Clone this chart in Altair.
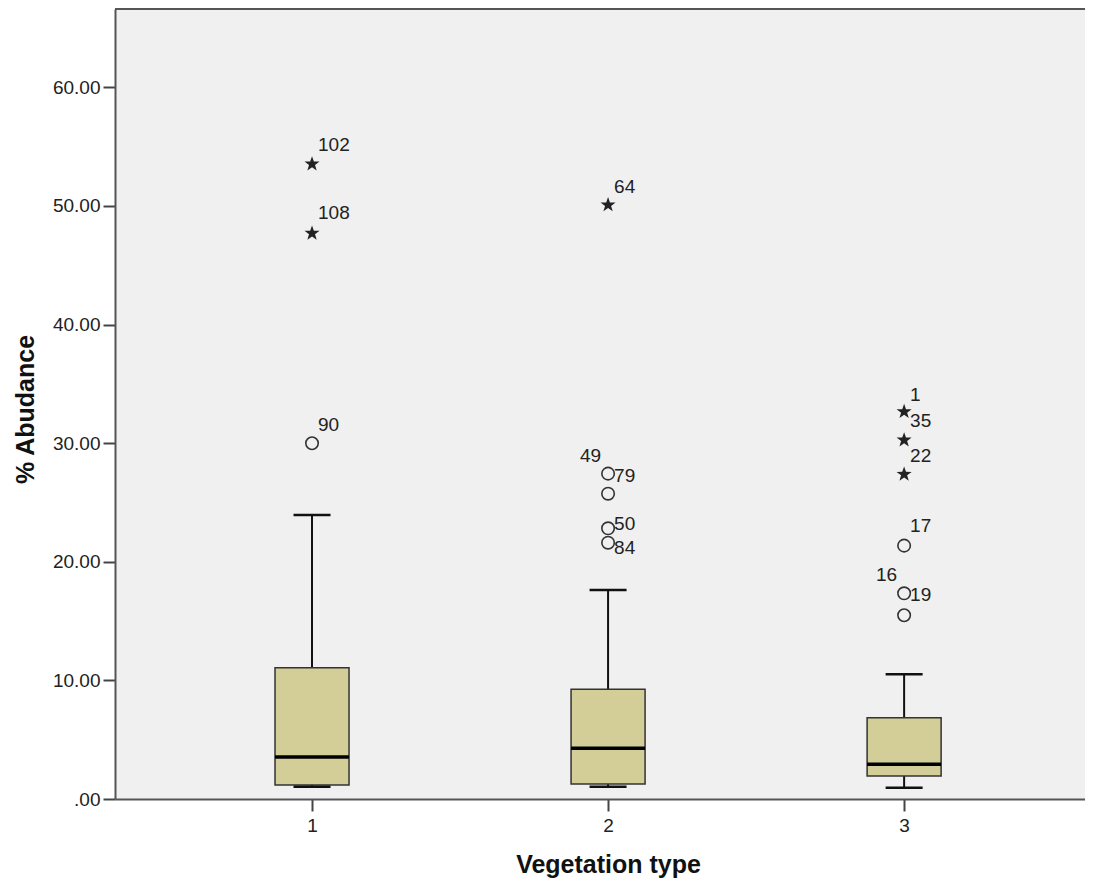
import altair as alt
import pandas as pd

# ---------------- data ----------------
groups = [1, 2, 3]
q1 = [1.18, 1.26, 1.94]
median = [3.54, 4.27, 2.92]
q3 = [11.07, 9.25, 6.86]
whisker_low = [1.04, 1.04, 0.95]
whisker_high = [23.94, 17.62, 10.51]

out_group = [1, 1, 1, 2, 2, 2, 2, 2, 3, 3, 3, 3, 3, 3]
out_value = [53.53, 47.69, 29.99, 50.08, 27.43, 25.74, 22.82, 21.61,
             32.65, 30.26, 27.37, 21.36, 17.34, 15.49]
out_kind = ["extreme", "extreme", "outlier", "extreme", "outlier", "outlier", "outlier", "outlier",
            "extreme", "extreme", "extreme", "outlier", "outlier", "outlier"]

label_group = [1, 1, 1, 2, 2, 2, 2, 2, 3, 3, 3, 3, 3, 3]
label_text = ["102", "108", "90", "64", "49", "79", "50", "84", "1", "35", "22", "17", "16", "19"]
label_value = [55.13, 49.40, 31.53, 51.59, 28.94, 27.26, 23.16, 21.13,
               34.06, 31.89, 28.92, 23.04, 18.88, 17.20]
label_side = ["right", "right", "right", "right", "left", "right", "right", "right",
              "right", "right", "right", "right", "left", "right"]

y_ticks = [0, 10, 20, 30, 40, 50, 60]
x_ticks = [1, 2, 3]

box_df = pd.DataFrame({"group": groups, "q1": q1, "median": median, "q3": q3,
                       "wlo": whisker_low, "whi": whisker_high})
out_df = pd.DataFrame({"group": out_group, "value": out_value, "kind": out_kind})
lab_df = pd.DataFrame({"group": label_group, "text": label_text,
                       "value": label_value, "side": label_side})

# ---------------- styling ----------------
W, H = 970, 790
FONT = "Liberation Sans"
BOX_FILL = "#d3ce97"
STAR = ("M0,-1L0.235,-0.324L0.951,-0.309L0.38,0.124L0.588,0.809L0,0.4"
        "L-0.588,0.809L-0.38,0.124L-0.951,-0.309L-0.235,-0.324Z")

xscale = alt.Scale(domain=[0.3345, 3.611], nice=False, zero=False)
yscale = alt.Scale(domain=[0, 66.6], nice=False, zero=False)

x_axis = alt.Axis(values=x_ticks, format="d", title="Vegetation type", grid=False,
                  tickSize=12, tickWidth=2, tickColor="#444", domainColor="#555",
                  domainWidth=2, labelPadding=5, labelFont=FONT, labelFontSize=19,
                  labelColor="#222", labelAngle=0, titleFont=FONT, titleFontSize=25,
                  titleFontWeight="bold", titleColor="#111", titleX=493, titleY=73,
                  titleAlign="center", titleBaseline="alphabetic")
y_axis = alt.Axis(values=y_ticks, title="% Abudance", grid=False,
                  labelExpr="datum.value == 0 ? '.00' : format(datum.value, '.2f')",
                  tickSize=12, tickWidth=2, tickColor="#444", domainColor="#555",
                  domainWidth=2, labelPadding=3, labelFont=FONT, labelFontSize=19,
                  labelColor="#222", titleFont=FONT, titleFontSize=25,
                  titleFontWeight="bold", titleColor="#111", titleAngle=270,
                  titleX=-82, titleY=400, titleAlign="center", titleBaseline="alphabetic")


def X(field):
    return alt.X(field, type="quantitative", scale=xscale, axis=x_axis)


def Y(field):
    return alt.Y(field, type="quantitative", scale=yscale, axis=y_axis)


base = alt.Chart(box_df).transform_calculate(
    xl="datum.group - 0.125", xr="datum.group + 0.125",
    cl="datum.group - 0.0625", cr="datum.group + 0.0625")

whisk_hi = base.mark_rule(color="#111", strokeWidth=2).encode(
    x=X("group"), y=Y("q3"), y2="whi:Q")
whisk_lo = base.mark_rule(color="#111", strokeWidth=2).encode(
    x=X("group"), y=Y("wlo"), y2="q1:Q")
boxes = base.mark_rect(fill=BOX_FILL, stroke="#333", strokeWidth=1.5).encode(
    x=X("xl"), x2="xr:Q", y=Y("q1"), y2="q3:Q")
med = base.mark_rule(color="#000", strokeWidth=3.5).encode(
    x=X("xl"), x2="xr:Q", y=Y("median"))
cap_hi = base.mark_rule(color="#111", strokeWidth=2.5).encode(
    x=X("cl"), x2="cr:Q", y=Y("whi"))
cap_lo = base.mark_rule(color="#111", strokeWidth=2.5).encode(
    x=X("cl"), x2="cr:Q", y=Y("wlo"))

circles = alt.Chart(out_df).transform_filter("datum.kind == 'outlier'").mark_point(
    shape="circle", filled=False, size=155, stroke="#333", strokeWidth=1.6, opacity=1
).encode(x=X("group"), y=Y("value"))
stars = alt.Chart(out_df).transform_filter("datum.kind == 'extreme'").mark_point(
    shape=STAR, filled=True, size=250, fill="#222", strokeWidth=0, opacity=1
).encode(x=X("group"), y=Y("value"))

lab_r = alt.Chart(lab_df).transform_filter("datum.side == 'right'").mark_text(
    align="left", baseline="middle", dx=6, font=FONT, fontSize=19, color="#222"
).encode(x=X("group"), y=Y("value"), text="text:N")
lab_l = alt.Chart(lab_df).transform_filter("datum.side == 'left'").mark_text(
    align="right", baseline="middle", dx=-7, font=FONT, fontSize=19, color="#222"
).encode(x=X("group"), y=Y("value"), text="text:N")

top_border = alt.Chart(pd.DataFrame({"k": [0]})).mark_rule(
    color="#555", strokeWidth=2).encode(
    x=alt.value(0), x2=alt.value(W), y=alt.value(0))

chart = alt.layer(
    whisk_hi, whisk_lo, boxes, med, cap_hi, cap_lo, circles, stars, lab_r, lab_l, top_border
).properties(
    width=W, height=H,
    padding={"left": 107, "top": 1, "right": 0, "bottom": 80},
    autosize=alt.AutoSizeParams(type="none"),
    background="white",
).configure_view(fill="#f0f0f0", stroke=None)

chart.save("out.html", embed_options={"renderer": "svg", "actions": False})
